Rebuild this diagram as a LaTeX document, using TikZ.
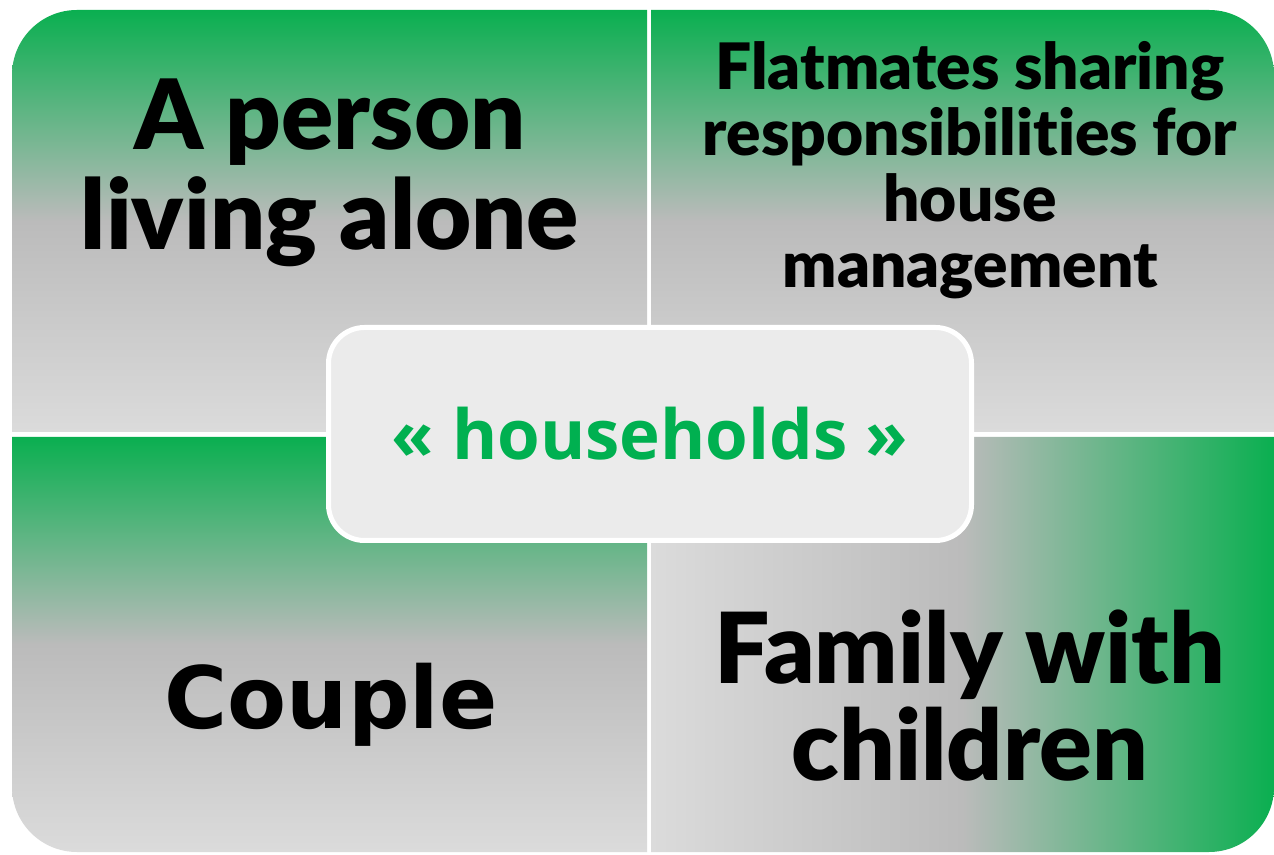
\documentclass[tikz,border=0pt]{standalone}
\usepackage{fontspec}
\setmainfont{Lato}[BoldFont={Lato Black},Ligatures=NoCommon]
\newfontfamily\couplefont{DejaVu Sans}
\newfontfamily\keyfont{Open Sans}
\definecolor{hgreen}{HTML}{0AAF50}
\definecolor{hgray}{HTML}{BBBBBB}
\definecolor{hlight}{HTML}{DBDBDB}
\definecolor{hbox}{HTML}{EBEBEB}
\definecolor{htext}{HTML}{00B050}
\begin{document}
\begin{tikzpicture}[x=1pt,y=1pt]
\tikzstyle{big label}=[align=center,font=\bfseries\fontsize{97}{100}\selectfont]
\tikzstyle{small label}=[align=center,font=\bfseries\fontsize{64}{66}\selectfont]
\tikzset{
	down shade/.style={top color=hgreen,bottom color=hlight,middle color=hgray},
	side shade/.style={left color=hlight,right color=hgreen,middle color=hgray},
	key box/.style={rectangle,rounded corners=36,draw=white,line width=5,fill=hbox,
		minimum width=643,minimum height=213}
}
\useasboundingbox (0,0) rectangle (1274,854);
\path[down shade] (12,422) -- (12,779) arc[start angle=180,end angle=90,radius=65]
	-- (647,844) -- (647,422) -- cycle;
\path[down shade] (651,422) -- (651,844) -- (1209,844)
	arc[start angle=90,end angle=0,radius=65] -- (1274,422) -- cycle;
\path[down shade] (12,417) -- (647,417) -- (647,2) -- (77,2)
	arc[start angle=270,end angle=180,radius=65] -- cycle;
\path[side shade] (651,417) -- (1274,417) -- (1274,67)
	arc[start angle=0,end angle=-90,radius=65] -- (651,2) -- cycle;

\node[big label] (alone) at (330,681) {A person\\living alone};
\node[small label] (flatmates) at (970,684) {Flatmates sharing\\responsibilities for\\house\\management};
\node[big label,font=\couplefont\bfseries\fontsize{86}{100}\selectfont] (couple) at (331,149) {Couple};
\node[big label,font=\bfseries\fontsize{98}{97}\selectfont] (family) at (970,158) {Family with\\children};
\node[key box] (households) at (650,420) {};
\node[text=htext,font=\keyfont\bfseries\fontsize{69}{70}\selectfont] (key) at (households) {« households »};
\end{tikzpicture}
\end{document}
